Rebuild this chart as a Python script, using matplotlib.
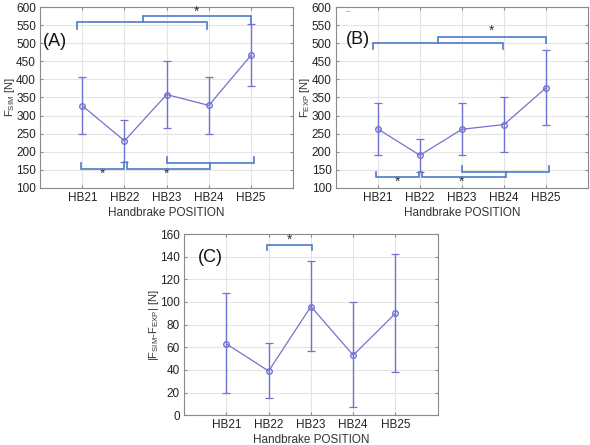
import matplotlib
matplotlib.use("Agg")
import matplotlib.pyplot as plt

plt.rcParams['font.family'] = ['Liberation Sans', 'DejaVu Sans']

positions = ["HB21", "HB22", "HB23", "HB24", "HB25"]

# panel A: F_SIM
sim_mean = [327, 230, 358, 328, 467]
sim_low = [248, 172, 265, 250, 381]
sim_high = [407, 288, 452, 407, 553]

# panel B: F_EXP
exp_mean = [263, 190, 262, 275, 377]
exp_low = [190, 145, 190, 200, 274]
exp_high = [336, 234, 334, 350, 481]

# panel C: |F_SIM - F_EXP|
diff_mean = [63, 39, 96, 53, 90]
diff_low = [20, 15, 57, 7, 38]
diff_high = [108, 64, 136, 100, 142]

LINE = '#7272d2'
BRACKET = '#4d7cc4'
SPINE = '#8a8a8a'


def bracket(ax, x0, x1, y, y0, y1):
    # horizontal bar at y, end ticks going to y0 (left) and y1 (right)
    ax.plot([x0, x0, x1, x1], [y0, y, y, y1], color=BRACKET, lw=1.2,
            solid_joinstyle='miter', clip_on=False, zorder=4)


def star(ax, x, y):
    ax.text(x, y, '*', ha='center', va='center', fontsize=10, color='#333333')


def panel(ax, mean, low, high, ylim, yticks, ylabel, tag, tagpos):
    x = list(range(len(positions)))
    err = [[m - l for m, l in zip(mean, low)], [h - m for m, h in zip(mean, high)]]
    ax.errorbar(x, mean, yerr=err, color=LINE, lw=0.9, elinewidth=1.0,
                capsize=3, capthick=0.9, marker='o', markersize=4,
                markerfacecolor='none', markeredgecolor=LINE, zorder=3)
    ax.set_xlim(-1, 5)
    ax.set_ylim(*ylim)
    ax.set_yticks(yticks)
    ax.set_xticks(x)
    ax.set_xticklabels(positions)
    ax.set_xlabel('Handbrake POSITION', fontsize=8.5, color='#333333', labelpad=2)
    ax.set_ylabel(ylabel, fontsize=8, color='#333333')
    ax.yaxis.set_label_coords(-0.092, 0.5)
    ax.grid(True, color='#e4e4e4', lw=0.8)
    ax.set_axisbelow(True)
    for s in ax.spines.values():
        s.set_color(SPINE)
    ax.tick_params(labelsize=8.5, colors='#222222', length=0, pad=3)
    ax.tick_params(axis='y', which='both', right=True, direction='in',
                   length=2.5, color=SPINE)
    ax.tick_params(axis='x', top=True, direction='in', length=2.5, color=SPINE)
    ax.text(tagpos[0], tagpos[1], tag, transform=ax.transAxes, fontsize=13,
            va='center', ha='left', color='#111111')


fig = plt.figure(figsize=(5.9, 4.45), dpi=100)
axA = fig.add_axes([0.068, 0.578, 0.429, 0.406])
axB = fig.add_axes([0.569, 0.578, 0.428, 0.406])
axC = fig.add_axes([0.312, 0.067, 0.430, 0.407])

panel(axA, sim_mean, sim_low, sim_high, (100, 600), range(100, 601, 50),
      r'$\mathregular{F_{SIM}}$ [N]', '(A)', (0.01, 0.81))
bracket(axA, -0.12, 2.96, 558, 540, 540)
bracket(axA, 1.43, 4.0, 576, 558, 553)
star(axA, 2.7, 588)
bracket(axA, -0.03, 0.98, 153, 169, 172)
bracket(axA, 1.07, 3.02, 153, 172, 169)
bracket(axA, 2.0, 4.07, 169, 184, 184)
star(axA, 0.48, 140)
star(axA, 2.0, 140)

panel(axB, exp_mean, exp_low, exp_high, (100, 600), range(100, 601, 50),
      r'$\mathregular{F_{EXP}}$ [N]', '(B)', (0.04, 0.82))
bracket(axB, -0.12, 2.97, 500, 483, 483)
bracket(axB, 1.43, 4.0, 518, 500, 502)
star(axB, 2.7, 534)
bracket(axB, -0.04, 0.98, 130, 143, 145)
bracket(axB, 1.04, 3.05, 130, 145, 143)
bracket(axB, 2.0, 4.06, 143, 161, 161)
star(axB, 0.48, 117)
star(axB, 2.0, 117)
axB.text(0.04, 0.975, '–', transform=axB.transAxes, fontsize=6,
         color='#777777', va='center')

panel(axC, diff_mean, diff_low, diff_high, (0, 160), range(0, 161, 20),
      r'$\mathregular{|F_{SIM}}$-$\mathregular{F_{EXP}|}$ [N]', '(C)', (0.055, 0.87))
bracket(axC, 0.96, 2.02, 150.5, 146, 146)
star(axC, 1.5, 155)

fig.savefig('out.png', dpi=100)
